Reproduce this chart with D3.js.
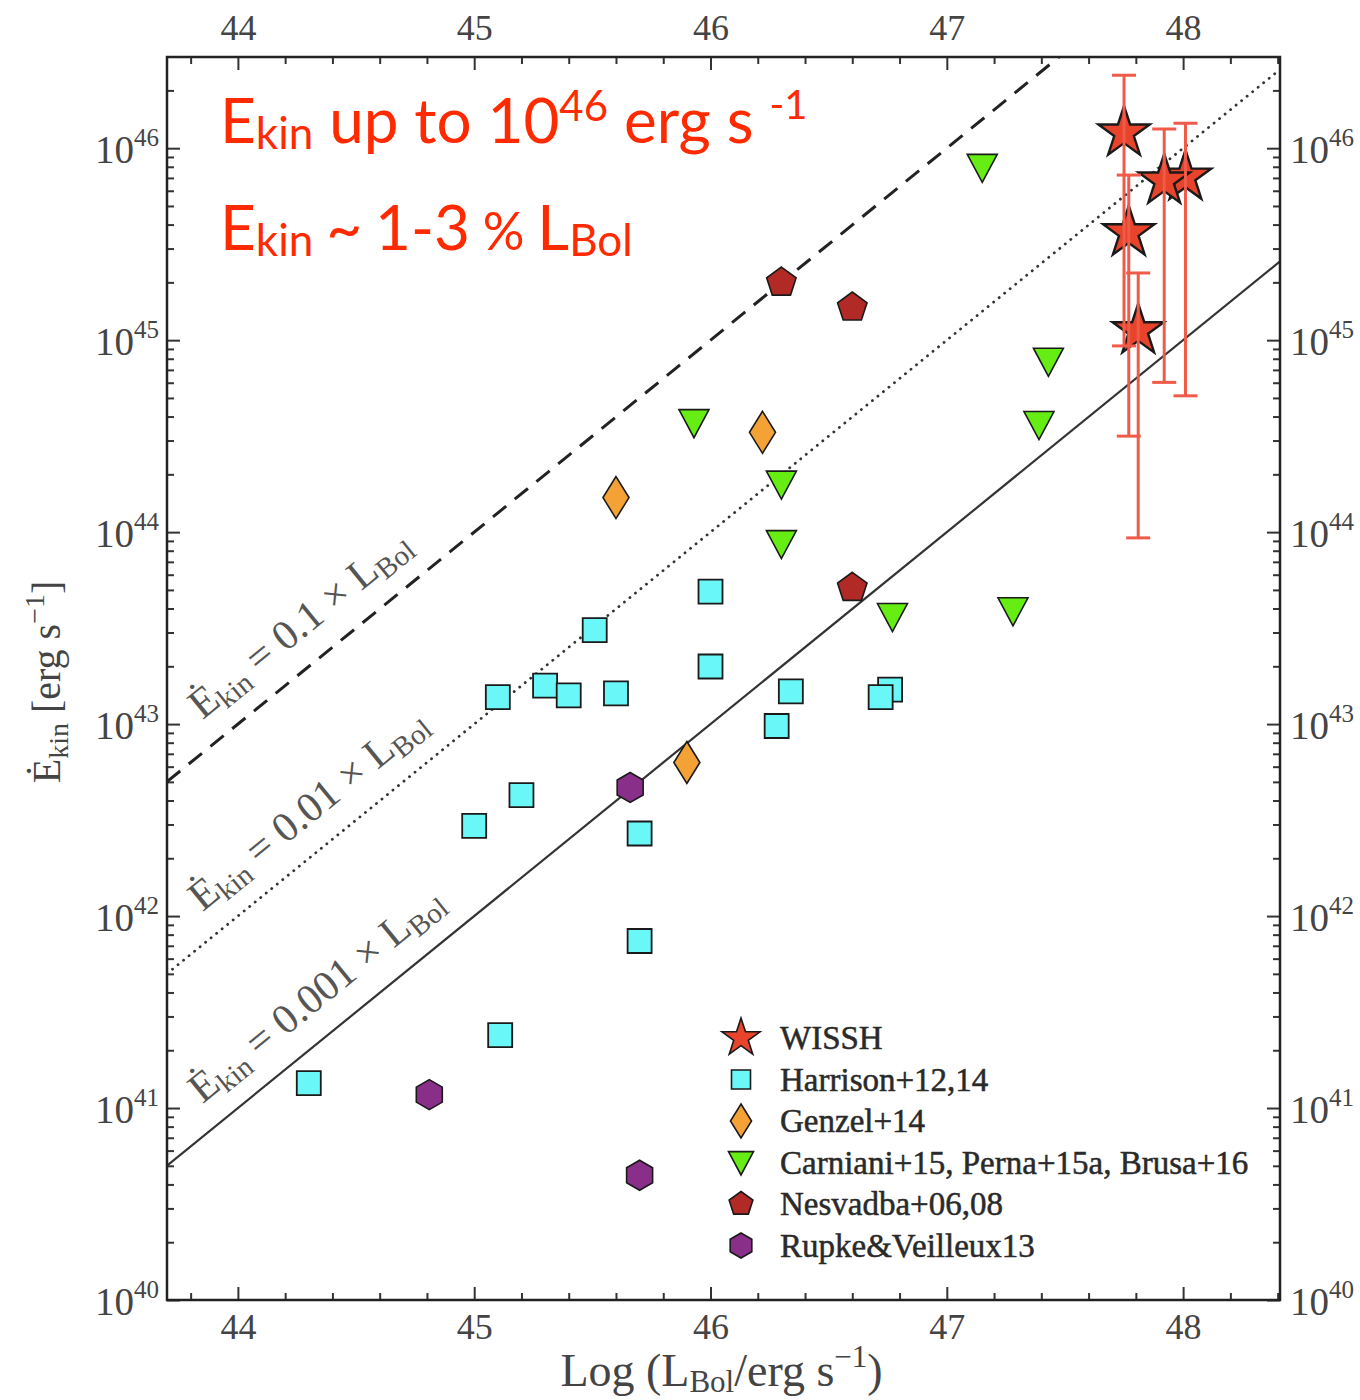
<!DOCTYPE html>
<html>
<head>
<meta charset="utf-8">
<script src="https://cdn.jsdelivr.net/npm/d3@7"></script>
<style>
  body { margin: 0; background: #fff; }
  text { font-family: "Liberation Serif", serif; }
</style>
</head>
<body>
<svg id="chart" width="1360" height="1400"></svg>
<script>
// ---------- data (x: log L_Bol [erg/s], y: log E_kin [erg/s]) ----------
const xTicks = [44, 45, 46, 47, 48];
const yTickExps = [40, 41, 42, 43, 44, 45, 46];

const wisshL   = [48.01, 47.75, 47.77, 47.81, 47.92];
const wisshE   = [45.85, 46.08, 45.56, 45.05, 45.83];
const wisshEhi = [46.13, 46.38, 45.86, 45.35, 46.10];
const wisshElo = [44.71, 44.97, 44.50, 43.97, 44.78];

const harrisonL = [44.30, 45.11, 45.00, 45.20, 45.10, 45.30, 45.40, 45.51, 45.60, 45.70, 45.70, 46.00, 46.00, 46.28, 46.34, 46.76, 46.72];
const harrisonE = [41.13, 41.38, 42.47, 42.63, 43.14, 43.20, 43.15, 43.49, 43.16, 42.43, 41.87, 43.69, 43.30, 42.99, 43.17, 43.18, 43.14];

const genzelL = [45.60, 46.22, 45.90];
const genzelE = [44.18, 44.52, 42.80];

const carnianiL = [47.15, 47.43, 45.93, 47.39, 46.30, 46.30, 46.77, 47.28];
const carnianiE = [45.90, 44.89, 44.57, 44.56, 44.25, 43.94, 43.56, 43.59];

const nesvadbaL = [46.30, 46.60, 46.60];
const nesvadbaE = [45.30, 45.17, 43.71];

const rupkeL = [44.81, 45.66, 45.70];
const rupkeE = [41.07, 42.67, 40.65];

const ratios = [0.1, 0.01, 0.001];
const ratioLabels = ["0.1", "0.01", "0.001"];

const legendNames = ["WISSH", "Harrison+12,14", "Genzel+14",
  "Carniani+15, Perna+15a, Brusa+16", "Nesvadba+06,08", "Rupke\u0026Veilleux13"];

// ---------- layout ----------
const M = { l: 167, r: 1280, t: 57, b: 1300 };
const svg = d3.select("#chart");

const x = d3.scaleLinear().domain([43.7, 48.41]).range([M.l, M.r]);
const y = d3.scaleLog().domain([1e40, Math.pow(10, 46.475)]).range([M.b, M.t]);
const yl = v => y(Math.pow(10, v));

// ---------- marker shapes ----------
const starType = {
  draw(ctx, size) {
    const R = Math.sqrt(size), r = R * 0.382;
    for (let i = 0; i < 10; i++) {
      const a = -Math.PI / 2 + i * Math.PI / 5, rr = i % 2 ? r : R;
      const px = rr * Math.cos(a), py = rr * Math.sin(a);
      i ? ctx.lineTo(px, py) : ctx.moveTo(px, py);
    }
    ctx.closePath();
  }
};
const polyType = (n, start) => ({
  draw(ctx, size) {
    const R = Math.sqrt(size);
    for (let i = 0; i < n; i++) {
      const a = start + i * 2 * Math.PI / n;
      const px = R * Math.cos(a), py = R * Math.sin(a);
      i ? ctx.lineTo(px, py) : ctx.moveTo(px, py);
    }
    ctx.closePath();
  }
});
const triDownType = {
  draw(ctx, size) {
    const s = Math.sqrt(size);
    ctx.moveTo(-s, -0.87 * s); ctx.lineTo(s, -0.87 * s); ctx.lineTo(0, s); ctx.closePath();
  }
};
const thinDiamondType = {
  draw(ctx, size) {
    const s = Math.sqrt(size);
    ctx.moveTo(0, -s); ctx.lineTo(0.62 * s, 0); ctx.lineTo(0, s); ctx.lineTo(-0.62 * s, 0); ctx.closePath();
  }
};
const pentagonType = polyType(5, -Math.PI / 2);
const hexagonType = polyType(6, -Math.PI / 2);

// ---------- clip ----------
svg.append("defs").append("clipPath").attr("id", "plotclip")
  .append("rect").attr("x", M.l).attr("y", M.t).attr("width", M.r - M.l).attr("height", M.b - M.t);

// ---------- axes ----------
const tickCol = "#333";
function styleAxis(g) {
  g.select(".domain").remove();
  g.selectAll(".tick line").attr("stroke", tickCol).attr("stroke-width", 2);
  g.selectAll(".tick text").attr("fill", "#444").style("font-family", "Liberation Serif, serif");
}
const xMinor = d3.range(43.8, 48.41, 0.2).filter(v => Math.abs(v - Math.round(v)) > 0.05);
const yMinor = [];
yTickExps.forEach(e => { for (let k = 2; k <= 9; k++) { const v = k * Math.pow(10, e); if (v <= y.domain()[1]) yMinor.push(v); } });

// bottom
svg.append("g").attr("transform", `translate(0,${M.b})`)
  .call(d3.axisBottom(x).tickValues(xTicks).tickSize(-13).tickPadding(13).tickFormat(d3.format("d")))
  .call(styleAxis).style("font-size", "36px");
svg.append("g").attr("transform", `translate(0,${M.b})`)
  .call(d3.axisBottom(x).tickValues(xMinor).tickSize(-7).tickFormat(""))
  .call(styleAxis);
// top
svg.append("g").attr("transform", `translate(0,${M.t})`)
  .call(d3.axisTop(x).tickValues(xTicks).tickSize(-13).tickPadding(17).tickFormat(d3.format("d")))
  .call(styleAxis).style("font-size", "36px");
svg.append("g").attr("transform", `translate(0,${M.t})`)
  .call(d3.axisTop(x).tickValues(xMinor).tickSize(-7).tickFormat(""))
  .call(styleAxis);

// left / right (labels as 10^n)
function powLabel(g, anchor, dx) {
  g.selectAll(".tick").each(function(d) {
    const e = Math.round(Math.log10(d));
    const t = d3.select(this).append("text")
      .attr("x", dx).attr("y", 14).attr("text-anchor", anchor)
      .attr("fill", "#444").style("font-size", "39px");
    t.append("tspan").text("10");
    t.append("tspan").attr("dy", -17).style("font-size", "25px").text(e);
  });
}
const yMajorVals = yTickExps.map(e => Math.pow(10, e));
svg.append("g").attr("transform", `translate(${M.l},0)`)
  .call(d3.axisLeft(y).tickValues(yMajorVals).tickSize(-13).tickFormat(""))
  .call(styleAxis).call(g => powLabel(g, "end", -8));
svg.append("g").attr("transform", `translate(${M.l},0)`)
  .call(d3.axisLeft(y).tickValues(yMinor).tickSize(-7).tickFormat(""))
  .call(styleAxis);
svg.append("g").attr("transform", `translate(${M.r},0)`)
  .call(d3.axisRight(y).tickValues(yMajorVals).tickSize(-13).tickFormat(""))
  .call(styleAxis).call(g => powLabel(g, "start", 10));
svg.append("g").attr("transform", `translate(${M.r},0)`)
  .call(d3.axisRight(y).tickValues(yMinor).tickSize(-7).tickFormat(""))
  .call(styleAxis);

// ---------- constant-ratio lines ----------
const lineStyles = [
  { dash: "17 11", w: 3, col: "#222", cap: "butt" },
  { dash: "0.1 7", w: 2.8, col: "#333", cap: "round" },
  { dash: null, w: 2.2, col: "#333", cap: "butt" }
];
const xd = x.domain();
const lineGen = d3.line().x(d => x(d[0])).y(d => yl(d[1]));
const lines = svg.append("g").attr("clip-path", "url(#plotclip)");
ratios.forEach((r, i) => {
  const pts = xd.map(L => [L, L + Math.log10(r)]);
  lines.append("path").attr("d", lineGen(pts)).attr("fill", "none")
    .attr("stroke", lineStyles[i].col).attr("stroke-width", lineStyles[i].w)
    .attr("stroke-dasharray", lineStyles[i].dash).attr("stroke-linecap", lineStyles[i].cap);
});

// rotated labels along the lines
const angle = Math.atan2(yl(41) - yl(40), x(45) - x(44)) * 180 / Math.PI;
ratios.forEach((r, i) => {
  const L0 = 43.85, E0 = L0 + Math.log10(r) + 0.17;
  const t = svg.append("text")
    .attr("transform", `translate(${x(L0)},${yl(E0)}) rotate(${angle})`)
    .attr("fill", "#555").style("font-size", "42px");
  t.append("tspan").text("\u0116");
  t.append("tspan").attr("dy", 7).style("font-size", "29px").text("kin");
  t.append("tspan").attr("dy", -7).text(" = " + ratioLabels[i] + " \u00d7 L");
  t.append("tspan").attr("dy", 7).style("font-size", "29px").text("Bol");
});

// ---------- markers ----------
const mk = svg.append("g");
function drawSet(Ls, Es, type, size, fill, sw) {
  mk.append("g").selectAll("path").data(Ls.map((L, i) => [L, Es[i]])).join("path")
    .attr("transform", d => `translate(${x(d[0])},${yl(d[1])})`)
    .attr("d", d3.symbol().type(type).size(size))
    .attr("fill", fill).attr("stroke", "#1a1a1a").attr("stroke-width", sw)
    .attr("stroke-linejoin", "miter");
}
drawSet(harrisonL, harrisonE, d3.symbolSquare, 24 * 24, "#6af7f7", 1.8);
drawSet(genzelL, genzelE, thinDiamondType, 21 * 21, "#f4a236", 1.6);
drawSet(carnianiL, carnianiE, triDownType, 15 * 15, "#66ee14", 1.6);
drawSet(nesvadbaL, nesvadbaE, pentagonType, 15.5 * 15.5, "#b22a26", 1.6);
drawSet(rupkeL, rupkeE, hexagonType, 15 * 15, "#892f8a", 1.6);

// WISSH error bars then stars
const eb = svg.append("g").attr("stroke", "#f05a48").attr("stroke-width", 3).attr("fill", "none");
wisshL.forEach((L, i) => {
  const cx = x(L);
  eb.append("line").attr("x1", cx).attr("x2", cx).attr("y1", yl(wisshEhi[i])).attr("y2", yl(wisshElo[i]));
  [wisshEhi[i], wisshElo[i]].forEach(v =>
    eb.append("line").attr("x1", cx - 12).attr("x2", cx + 12).attr("y1", yl(v)).attr("y2", yl(v)));
});
drawSet(wisshL, wisshE, starType, 27 * 27, "#e8432b", 2.4);

// ---------- frame ----------
svg.append("rect").attr("x", M.l).attr("y", M.t).attr("width", M.r - M.l).attr("height", M.b - M.t)
  .attr("fill", "none").attr("stroke", "#222").attr("stroke-width", 2.5);

// ---------- legend ----------
const legTypes = [starType, d3.symbolSquare, thinDiamondType, triDownType, pentagonType, hexagonType];
const legSizes = [20 * 20, 19 * 19, 17 * 17, 12.5 * 12.5, 12.5 * 12.5, 12.5 * 12.5];
const legFills = ["#e8432b", "#6af7f7", "#f4a236", "#66ee14", "#b22a26", "#892f8a"];
const leg = svg.append("g").attr("transform", "translate(741,1038)");
legendNames.forEach((n, i) => {
  const row = leg.append("g").attr("transform", `translate(0,${i * 41.5})`);
  row.append("path").attr("d", d3.symbol().type(legTypes[i]).size(legSizes[i]))
    .attr("fill", legFills[i]).attr("stroke", "#1a1a1a").attr("stroke-width", 1.6);
  row.append("text").attr("x", 39).attr("y", 11).attr("fill", "#2a2a2a")
    .attr("stroke", "#2a2a2a").attr("stroke-width", 0.5)
    .style("font-size", "33px").text(n);
});

// ---------- axis titles ----------
const xt = svg.append("text").attr("x", (M.l + M.r) / 2 - 2).attr("y", 1386)
  .attr("text-anchor", "middle").attr("fill", "#444").style("font-size", "46px");
xt.append("tspan").text("Log (L");
xt.append("tspan").attr("dy", 6).style("font-size", "31px").text("Bol");
xt.append("tspan").attr("dy", -6).text("/erg s");
xt.append("tspan").attr("dy", -19).style("font-size", "31px").text("\u22121");
xt.append("tspan").attr("dy", 19).text(")");

const ytl = svg.append("text").attr("transform", "translate(60,682) rotate(-90)")
  .attr("text-anchor", "middle").attr("fill", "#444").style("font-size", "40px");
ytl.append("tspan").text("\u0116");
ytl.append("tspan").attr("dy", 8).style("font-size", "28px").text("kin");
ytl.append("tspan").attr("dy", -8).text(" [erg s");
ytl.append("tspan").attr("dy", -16).style("font-size", "28px").text("\u22121");
ytl.append("tspan").attr("dy", 16).text("]");

// ---------- annotation ----------
const red = "#ff2a00";
const a1 = svg.append("text").attr("x", 220).attr("y", 143).attr("fill", red)
  .style("font-family", "Lato, sans-serif").style("font-size", "62px");
a1.append("tspan").text("E");
a1.append("tspan").attr("dy", 6).style("font-size", "44px").text("kin");
a1.append("tspan").attr("dy", -6).text(" up to 10");
a1.append("tspan").attr("dy", -22).style("font-size", "42px").text("46");
a1.append("tspan").attr("dy", 22).text(" erg s ");
a1.append("tspan").attr("dy", -24).style("font-size", "40px").text("-1");

const a2 = svg.append("text").attr("x", 220).attr("y", 250).attr("fill", red)
  .style("font-family", "Lato, sans-serif").style("font-size", "62px")
  .style("word-spacing", "-3px");
a2.append("tspan").text("E");
a2.append("tspan").attr("dy", 6).style("font-size", "44px").text("kin");
a2.append("tspan").attr("dy", -6).text(" ~ 1-3 ");
a2.append("tspan").style("font-size", "52px").text("%");
a2.append("tspan").text(" L");
a2.append("tspan").attr("dy", 6).style("font-size", "44px").text("Bol");
</script>
</body>
</html>
